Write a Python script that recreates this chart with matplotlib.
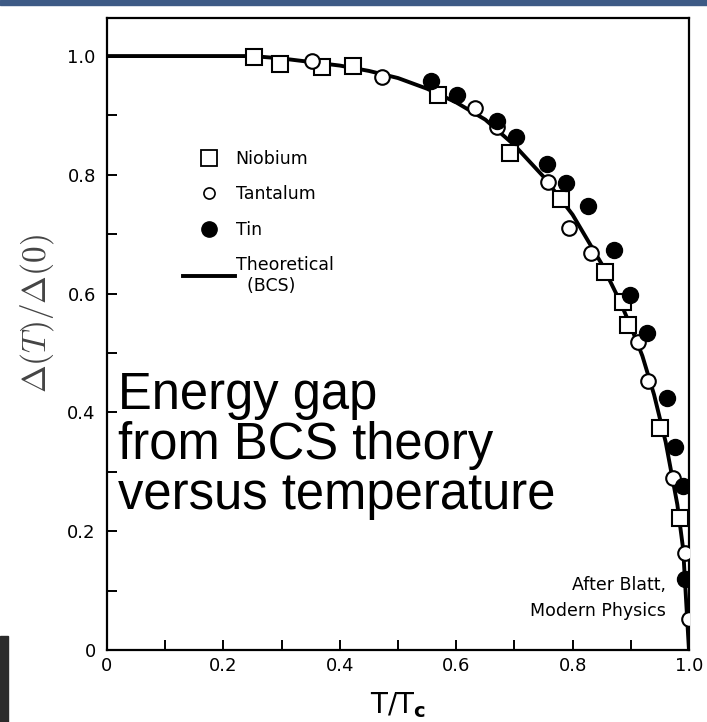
import matplotlib
matplotlib.use("Agg")
import matplotlib.pyplot as plt
from matplotlib.lines import Line2D
from matplotlib.patches import Rectangle

# ------------------------- data -------------------------
nb_t = [0.253, 0.297, 0.369, 0.423, 0.569, 0.692, 0.780, 0.856, 0.887, 0.896, 0.950, 0.984]
nb_gap = [0.999, 0.987, 0.982, 0.983, 0.934, 0.837, 0.760, 0.637, 0.586, 0.547, 0.373, 0.222]

ta_t = [0.352, 0.472, 0.632, 0.670, 0.757, 0.794, 0.831, 0.913, 0.930, 0.973, 0.993, 1.000]
ta_gap = [0.992, 0.965, 0.912, 0.881, 0.788, 0.710, 0.668, 0.519, 0.453, 0.289, 0.163, 0.053]

sn_t = [0.557, 0.601, 0.670, 0.703, 0.756, 0.789, 0.827, 0.871, 0.899, 0.928, 0.962, 0.976, 0.990, 0.993]
sn_gap = [0.958, 0.934, 0.891, 0.864, 0.819, 0.786, 0.747, 0.673, 0.598, 0.533, 0.425, 0.342, 0.276, 0.119]

bcs_t = [0, 0.25, 0.30, 0.35, 0.40, 0.45, 0.50, 0.55, 0.60, 0.65, 0.70, 0.75,
         0.80, 0.85, 0.88, 0.90, 0.92, 0.94, 0.96, 0.98, 0.99, 1.0]
bcs_gap = [1.0, 1.0, 0.996, 0.99, 0.984, 0.975, 0.963, 0.945, 0.922, 0.893, 0.85, 0.797,
           0.733, 0.65, 0.59, 0.545, 0.495, 0.43, 0.35, 0.245, 0.17, 0.0]

x_ticks = [0, 0.2, 0.4, 0.6, 0.8, 1.0]
x_labels = ["0", "0.2", "0.4", "0.6", "0.8", "1.0"]
y_ticks = [0, 0.2, 0.4, 0.6, 0.8, 1.0]
y_labels = ["0", "0.2", "0.4", "0.6", "0.8", "1.0"]

plt.rcParams["mathtext.fontset"] = "cm"
small = "DejaVu Sans"

fig = plt.figure(figsize=(7.07, 7.22), dpi=100)
ax = fig.add_axes([0.1513, 0.0997, 0.8232, 0.8753])

# page decorations
fig.patches.append(Rectangle((0, 0.993), 1, 0.007, transform=fig.transFigure,
                             color="#3d5a85", zorder=0))
fig.patches.append(Rectangle((0, 0), 0.011, 0.119, transform=fig.transFigure,
                             color="#2b2b2b", zorder=0))

ax.plot(bcs_t, bcs_gap, color="black", lw=2.8, zorder=2)
ax.plot(nb_t, nb_gap, "s", ms=12, mfc="white", mec="black", mew=1.5, zorder=3)
ax.plot(ta_t, ta_gap, "o", ms=10.5, mfc="white", mec="black", mew=1.5, zorder=4)
ax.plot(sn_t, sn_gap, "o", ms=11.5, mfc="black", mec="black", zorder=5)

ax.set_xlim(0, 1.0)
ax.set_ylim(0, 1.064)
ax.set_xticks(x_ticks)
ax.set_xticklabels(x_labels, family=small, fontsize=13)
ax.set_yticks(y_ticks)
ax.set_yticklabels(y_labels, family=small, fontsize=13)
ax.set_xticks([0.1, 0.3, 0.5, 0.7, 0.9], minor=True)
ax.set_yticks([0.1, 0.3, 0.5, 0.7, 0.9], minor=True)
ax.tick_params(which="both", direction="in", length=7, width=1.4)
ax.tick_params(axis="x", pad=5)
ax.tick_params(axis="y", pad=8)
for s in ax.spines.values():
    s.set_linewidth(1.6)

ax.set_xlabel(r"T/T$_{\mathbf{c}}$", fontsize=20, labelpad=11, math_fontfamily="dejavusans")
ax.set_ylabel(r"$\Delta(T)/\Delta(0)$", fontsize=24, color="#444444")
ax.yaxis.set_label_coords(-0.088, 0.532)

handles = [
    Line2D([], [], ls="none", marker="s", ms=11, mfc="white", mec="black", mew=1.3),
    Line2D([], [], ls="none", marker="o", ms=8, mfc="white", mec="black", mew=1.2),
    Line2D([], [], ls="none", marker="o", ms=11, mfc="black", mec="black"),
    Line2D([], [], color="black", lw=2.8),
]
labels = ["Niobium", "Tantalum", "Tin", "Theoretical\n  (BCS)"]
ax.legend(handles, labels, loc="upper left", bbox_to_anchor=(0.115, 0.805),
          frameon=False, prop={"family": small, "size": 12.5}, handlelength=3.0,
          handletextpad=0.05, labelspacing=1.0, borderpad=0)

ax.text(0.019, 0.47, "Energy gap\nfrom BCS theory\nversus temperature",
        family=["Liberation Sans", "DejaVu Sans"], fontsize=36.5, va="top", ha="left",
        linespacing=1.03)
ax.text(0.96, 0.088, "After Blatt,\nModern Physics", family=small, fontsize=12.5,
        ha="right", va="center", linespacing=1.55)

fig.savefig("out.png", dpi=100)
